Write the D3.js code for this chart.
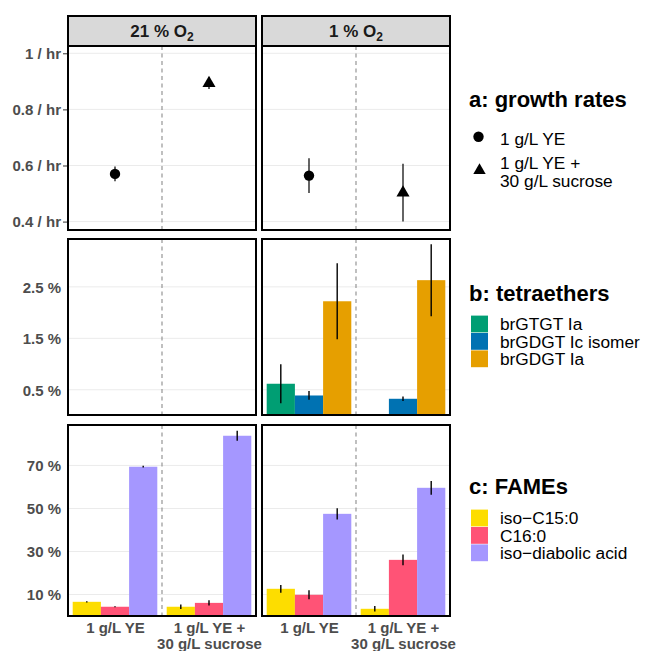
<!DOCTYPE html>
<html>
<head>
<meta charset="utf-8">
<script src="https://cdn.jsdelivr.net/npm/d3@7"></script>
<style>
  body { margin: 0; background: #fff; }
  text { font-family: 'Liberation Sans', Arial, Helvetica, sans-serif; }
</style>
</head>
<body>
<div class="chart"></div>
<script>
// facets (columns) and x categories
let oxygen = ['21 % O', '1 % O'];
let media = [['1 g/L YE'], ['1 g/L YE +', '30 g/L sucrose']];

// a: growth rates, [21 %, 1 %] x [YE, YE + sucrose]
let growthMean = [[0.570, 0.893], [0.564, 0.503]];
let growthSd = [[0.026, 0.020], [0.062, 0.103]];
let growthTicks = [0.4, 0.6, 0.8, 1];

// b: tetraethers (%), no data at 21 % O2
let tetraNames = ['brGTGT Ia', 'brGDGT Ic isomer', 'brGDGT Ia'];
let tetraColors = ['#009E73', '#0072B2', '#E69F00'];
let brGTGTIaMean = [[null, null], [0.617, null]];
let brGTGTIaSd = [[null, null], [0.38, null]];
let brGDGTIcMean = [[null, null], [0.389, 0.325]];
let brGDGTIcSd = [[null, null], [0.085, 0.043]];
let brGDGTIaMean = [[null, null], [2.22, 2.63]];
let brGDGTIaSd = [[null, null], [0.74, 0.70]];
let tetraTicks = [0.5, 1.5, 2.5];

// c: FAMEs (%)
let fameNames = ['iso\u2212C15:0', 'C16:0', 'iso\u2212diabolic acid'];
let fameColors = ['#FDDD00', '#FF5376', '#A597FF'];
let isoC15Mean = [[6.6, 4.3], [12.65, 3.35]];
let isoC15Sd = [[0.3, 1.0], [1.8, 1.3]];
let c16Mean = [[4.3, 6.1], [9.86, 26.1]];
let c16Sd = [[0.2, 1.2], [2.1, 2.5]];
let diabolicMean = [[69.4, 83.8], [47.5, 59.6]];
let diabolicSd = [[0.4, 2.3], [2.6, 3.2]];
let fameTicks = [10, 30, 50, 70];

let width = 647;
let height = 651;
let panelLeft = [68, 262];
let panelW = 188;
let stripTop = 16;

let svg = d3.select('.chart')
            .append('svg')
            .attr('width', width)
            .attr('height', height);

let xScale = d3.scaleLinear().domain([0.5, 2.5]).range([0, panelW]);

let rows = [
  { top: 46, bottom: 230, y: d3.scaleLinear().domain([0.37, 1.026]).range([230, 46]),
    ticks: growthTicks, fmt: d => d + ' / hr', tick: 4 },
  { top: 239, bottom: 415, y: d3.scaleLinear().domain([0, 3.43]).range([415.5, 239]),
    ticks: tetraTicks, fmt: d => d + ' %', tick: 0 },
  { top: 425, bottom: 616, y: d3.scaleLinear().domain([0, 88.8]).range([616, 425]),
    ticks: fameTicks, fmt: d => d + ' %', tick: 0 }
];

// bar tables built from the series arrays
function barTable(means, sds) {
  let out = [];
  means.forEach((m, s) => {
    [0, 1].forEach(f => {
      [0, 1].forEach(g => {
        if (m[f][g] != null) out.push({ series: s, facet: f, group: g, mean: m[f][g], sd: sds[s][f][g] });
      });
    });
  });
  return out;
}
let tetraData = barTable([brGTGTIaMean, brGDGTIcMean, brGDGTIaMean], [brGTGTIaSd, brGDGTIcSd, brGDGTIaSd]);
let fameData = barTable([isoC15Mean, c16Mean, diabolicMean], [isoC15Sd, c16Sd, diabolicSd]);
let growthData = [];
[0, 1].forEach(f => [0, 1].forEach(g => growthData.push({ facet: f, group: g, mean: growthMean[f][g], sd: growthSd[f][g] })));

// panel backgrounds, grid, dashed separator
rows.forEach((r, ri) => {
  panelLeft.forEach((px, f) => {
    let g = svg.append('g').attr('class', 'panel-' + ri + '-' + f).attr('transform', 'translate(' + px + ',0)');
    g.append('rect').attr('x', 0).attr('y', r.top).attr('width', panelW).attr('height', r.bottom - r.top).attr('fill', '#fff');
    g.selectAll('.grid')
     .data(r.ticks)
     .enter()
     .append('line')
     .attr('x1', 0).attr('x2', panelW)
     .attr('y1', d => r.y(d)).attr('y2', d => r.y(d))
     .attr('stroke', '#EBEBEB').attr('stroke-width', 1);
    g.append('line')
     .attr('x1', xScale(1.5)).attr('x2', xScale(1.5))
     .attr('y1', r.top).attr('y2', r.bottom)
     .attr('stroke', '#8C8C8C').attr('stroke-width', 1.1).attr('stroke-dasharray', '4,3.5');
  });
});

// a: growth rates
let yA = rows[0].y;
let symCircle = d3.symbol().type(d3.symbolCircle).size(85);
let symTriangle = d3.symbol().type(d3.symbolTriangle).size(74);
growthData.forEach(d => {
  let cx = panelLeft[d.facet] + xScale(d.group + 1);
  svg.append('line')
     .attr('x1', cx).attr('x2', cx)
     .attr('y1', yA(d.mean - d.sd)).attr('y2', yA(d.mean + d.sd))
     .attr('stroke', '#111').attr('stroke-width', 1.3);
  svg.append('path')
     .attr('d', d.group == 0 ? symCircle() : symTriangle())
     .attr('transform', 'translate(' + cx + ',' + yA(d.mean) + ')')
     .attr('fill', '#000');
});

// bars with dodge 0.9
function drawBars(data, r, colors) {
  let bw = 0.3;
  data.forEach(d => {
    let xc = d.group + 1 + (d.series - 1) * bw;
    let x0 = panelLeft[d.facet] + xScale(xc - bw / 2);
    let x1 = panelLeft[d.facet] + xScale(xc + bw / 2);
    svg.append('rect')
       .attr('x', x0).attr('width', x1 - x0)
       .attr('y', r.y(d.mean)).attr('height', r.y(0) - r.y(d.mean))
       .attr('fill', colors[d.series]);
  });
  data.forEach(d => {
    let cx = panelLeft[d.facet] + xScale(d.group + 1 + (d.series - 1) * bw);
    svg.append('line')
       .attr('x1', cx).attr('x2', cx)
       .attr('y1', r.y(Math.max(0, d.mean - d.sd))).attr('y2', r.y(d.mean + d.sd))
       .attr('stroke', '#000').attr('stroke-width', 1.4);
  });
}
drawBars(tetraData, rows[1], tetraColors);
drawBars(fameData, rows[2], fameColors);

// panel borders and y axes
rows.forEach((r, ri) => {
  panelLeft.forEach(px => {
    svg.append('rect')
       .attr('x', px).attr('y', r.top).attr('width', panelW).attr('height', r.bottom - r.top)
       .attr('fill', 'none').attr('stroke', '#000').attr('stroke-width', 2);
  });
  let yAxis = d3.axisLeft(r.y)
                .tickValues(r.ticks)
                .tickFormat(r.fmt)
                .tickSize(r.tick)
                .tickPadding(r.tick ? 2 : 6);
  let ax = svg.append('g')
              .attr('class', 'y-axis')
              .attr('transform', 'translate(' + (panelLeft[0] - 1) + ',0)')
              .call(yAxis);
  ax.select('.domain').remove();
  ax.selectAll('line').attr('stroke', '#333').attr('stroke-width', 1);
  ax.selectAll('text')
    .style('font-size', '15px').style('font-weight', 'bold')
    .attr('fill', '#4D4D4D').attr('dy', '0.36em');
  if (ri == 0) {
    // keep the "/ hr" labels at the reference's width
    ax.selectAll('text')
      .attr('textLength', d => d == 1 ? 36 : 48.5)
      .attr('lengthAdjust', 'spacing');
  }
});

// strips
panelLeft.forEach((px, f) => {
  svg.append('rect')
     .attr('x', px).attr('y', stripTop).attr('width', panelW).attr('height', rows[0].top - stripTop)
     .attr('fill', '#D9D9D9').attr('stroke', '#000').attr('stroke-width', 2);
  let t = svg.append('text')
     .attr('x', px + panelW / 2).attr('y', 36.5)
     .attr('text-anchor', 'middle')
     .style('font-size', '17px').style('font-weight', 'bold')
     .attr('fill', '#1A1A1A');
  t.append('tspan').text(oxygen[f]);
  t.append('tspan').attr('dy', 4).style('font-size', '12px').text('2');
});

// x axis labels
panelLeft.forEach(px => {
  let xAxis = d3.axisBottom(xScale)
                .tickValues([1, 2])
                .tickSize(0)
                .tickPadding(6)
                .tickFormat('');
  let ax = svg.append('g')
              .attr('class', 'x-axis')
              .attr('transform', 'translate(' + px + ',' + rows[2].bottom + ')')
              .call(xAxis);
  ax.select('.domain').remove();
  ax.selectAll('.tick text')
    .attr('dy', null)
    .style('font-size', '15px').style('font-weight', 'bold')
    .attr('fill', '#4D4D4D')
    .each(function (d) {
      let el = d3.select(this);
      media[d - 1].forEach((line, i) => {
        el.append('tspan').attr('x', 0).attr('dy', i == 0 ? 11 : 16.3).text(line);
      });
    });
});

// legends
let lx = 469;
function legendTitle(txt, y) {
  svg.append('text').attr('x', lx).attr('y', y)
     .style('font-size', '22px').style('font-weight', 'bold')
     .attr('fill', '#000').text(txt);
}
function legendLabel(lines, y) {
  let t = svg.append('text').attr('x', 500).attr('y', y)
             .style('font-size', '17.3px').attr('fill', '#000');
  lines.forEach((line, i) => t.append('tspan').attr('x', 500).attr('dy', i == 0 ? 0 : 17.4).text(line));
}

legendTitle('a: growth rates', 107);
svg.append('path').attr('d', symCircle()).attr('transform', 'translate(478.5,136.7)').attr('fill', '#000');
legendLabel(media[0], 145);
svg.append('path').attr('d', symTriangle.size(66)()).attr('transform', 'translate(479.5,170.5)').attr('fill', '#000');
legendLabel(media[1], 169.3);

function keyLegend(title, titleY, names, colors, firstCenter) {
  legendTitle(title, titleY);
  names.forEach((n, i) => {
    let cy = firstCenter + i * 17.4;
    svg.append('rect').attr('x', 471).attr('y', cy - 8.4).attr('width', 17).attr('height', 16.8)
       .attr('fill', colors[i]);
    legendLabel([n], cy + 6.3);
  });
}
keyLegend('b: tetraethers', 301, tetraNames, tetraColors, 324);
keyLegend('c: FAMEs', 493.5, fameNames, fameColors, 518);
</script>
</body>
</html>
